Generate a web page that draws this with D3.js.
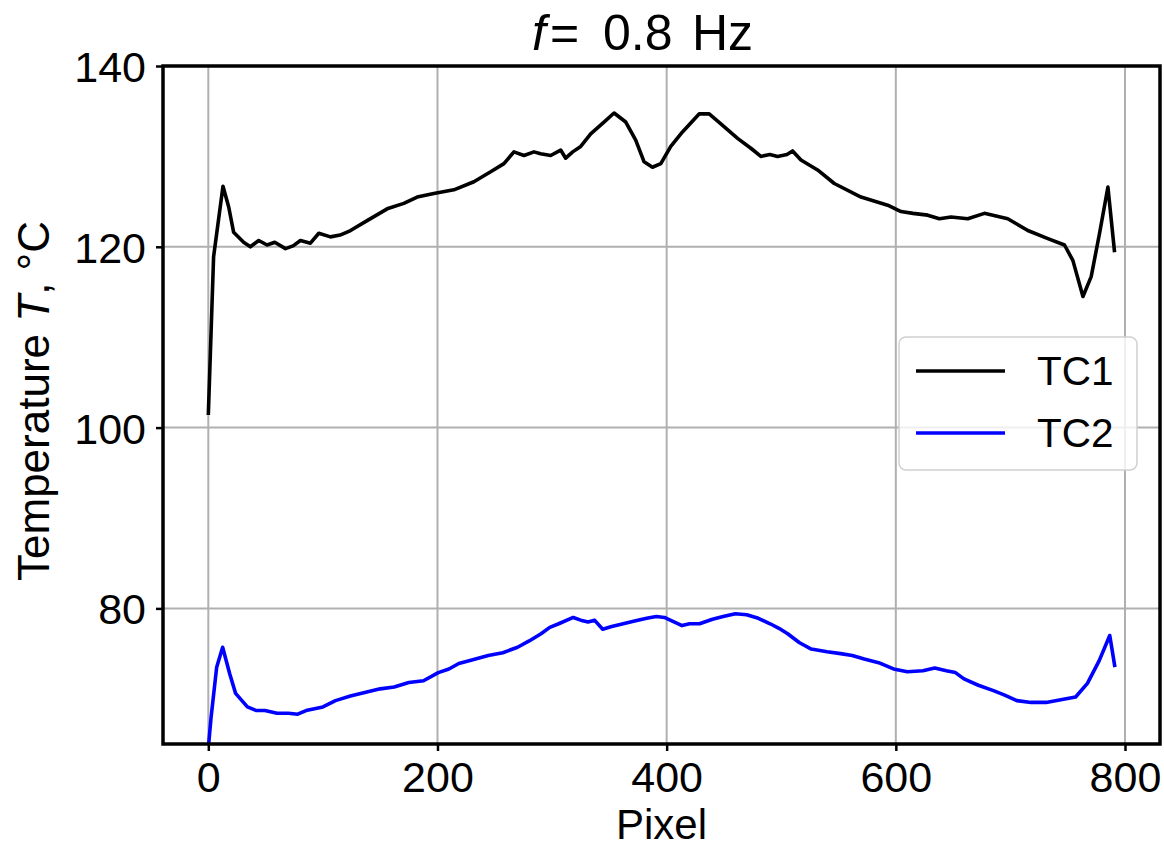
<!DOCTYPE html>
<html><head><meta charset="utf-8">
<script src="https://cdn.jsdelivr.net/npm/d3@7"></script>
<style>body{margin:0;background:#fff}text{font-family:"Liberation Sans",Arial,sans-serif}</style>
</head><body><svg id="c" width="1164" height="848"></svg>
<script>
const tc1X = [0,4.6,12.8,17.8,22.1,30.8,36.7,44,51.3,58,67.3,74,80.4,89.1,96.4,106.6,115,124.1,138.6,156.1,170.6,182.3,196.8,214.3,231.8,246.4,258,266.7,275.5,284.2,290,298.8,307.5,311.9,318,325,333.7,345.3,354.1,364.3,373,380.3,387.6,394.9,403.6,413.8,428.3,437.1,447.3,461.9,473.5,482.2,490,496.8,505,509.9,517.2,531.7,546.3,569.6,592.9,604.5,615,627.8,638,648.2,662.8,677.3,697.7,715.2,732.7,747.2,754.5,763.3,770.5,777.8,785.1,790.9];
const tc1Y = [101.4,118.9,126.7,124.4,121.6,120.5,120.0,120.7,120.2,120.5,119.8,120.1,120.7,120.4,121.5,121.1,121.3,121.8,122.9,124.2,124.8,125.5,125.9,126.3,127.2,128.3,129.2,130.5,130.1,130.5,130.3,130.1,130.7,129.8,130.5,131.1,132.5,133.8,134.8,133.8,131.8,129.4,128.8,129.2,131.1,132.7,134.7,134.7,133.6,132.0,130.9,130.0,130.2,130.0,130.2,130.6,129.6,128.5,127.0,125.5,124.6,123.9,123.7,123.5,123.1,123.3,123.1,123.7,123.1,121.8,120.9,120.2,118.5,114.5,116.7,121.5,126.6,119.4];
const tc2X = [0.3,2.3,7.3,12.5,18.6,23.8,34.1,42,49.4,60,69.9,78,85.3,100,111,124,136.5,150,162.2,175,187.8,200.7,210,218.6,230,244.3,257,269.9,280,290.4,298,305.8,318.5,325,331.4,337,344.2,352,362.1,372,382.6,391,398,405,413.4,420,428.7,440,449.3,460,469.8,480,490.3,498,505.6,516,526.2,540,551.8,562,572.4,585,598,610,623.6,634,644.1,652,659.5,672,685.2,695,705.6,718,731.2,744,756.9,767.2,777.4,786.7,791.2];
const tc2Y = [65.0,67.8,73.5,75.7,72.8,70.6,69.1,68.7,68.7,68.4,68.4,68.3,68.7,69.1,69.8,70.3,70.7,71.1,71.3,71.8,72.0,72.9,73.3,73.9,74.3,74.8,75.1,75.7,76.4,77.2,77.9,78.3,79.0,78.7,78.5,78.7,77.7,78.0,78.3,78.6,78.9,79.1,79.0,78.6,78.1,78.3,78.3,78.8,79.1,79.4,79.3,78.9,78.3,77.8,77.2,76.2,75.5,75.2,75.0,74.8,74.4,74.0,73.3,73.0,73.1,73.4,73.1,72.9,72.2,71.5,70.9,70.4,69.8,69.6,69.6,69.9,70.2,71.7,74.2,77.0,73.5];
const xTicks = [0,200,400,600,800];
const yTicks = [80,100,120,140];
const seriesNames = ["TC1","TC2"];
const seriesColors = ["#000000","#0000ff"];

const svg = d3.select("#c");
const L=163, R=1160, T=66, B=744;
const x = d3.scaleLinear().domain([-39.55,830.55]).range([L,R]);
const y = d3.scaleLinear().domain([65,140]).range([B,T]);
const FONT = "Liberation Sans, Arial, sans-serif";

const g = svg.append("g");
g.selectAll(".gx").data(xTicks).enter().append("line")
 .attr("x1",d=>x(d)).attr("x2",d=>x(d)).attr("y1",T).attr("y2",B)
 .attr("stroke","#b0b0b0").attr("stroke-width",2);
g.selectAll(".gy").data(yTicks).enter().append("line")
 .attr("y1",d=>y(d)).attr("y2",d=>y(d)).attr("x1",L).attr("x2",R)
 .attr("stroke","#b0b0b0").attr("stroke-width",2);

const line = d3.line().x(d=>x(d[0])).y(d=>y(d[1]));
svg.append("defs").append("clipPath").attr("id","clip").append("rect").attr("x",L).attr("y",T).attr("width",R-L).attr("height",B-T);
const lines = svg.append("g").attr("clip-path","url(#clip)");
lines.append("path").datum(d3.zip(tc1X,tc1Y)).attr("d",line).attr("fill","none")
 .attr("stroke",seriesColors[0]).attr("stroke-width",3.6).attr("stroke-linejoin","round");
lines.append("path").datum(d3.zip(tc2X,tc2Y)).attr("d",line).attr("fill","none")
 .attr("stroke",seriesColors[1]).attr("stroke-width",3.6).attr("stroke-linejoin","round");

const xa = svg.append("g").attr("transform",`translate(0,${B})`)
 .call(d3.axisBottom(x).tickValues(xTicks).tickSize(7).tickPadding(10).tickFormat(d3.format("d")));
const ya = svg.append("g").attr("transform",`translate(${L},0)`)
 .call(d3.axisLeft(y).tickValues(yTicks).tickSize(7).tickPadding(10).tickFormat(d3.format("d")));
[xa,ya].forEach(a=>{a.select(".domain").remove();
 a.selectAll(".tick line").attr("stroke","#000").attr("stroke-width",2.5);
 a.selectAll(".tick text").attr("font-size",43).attr("fill","#000").attr("font-family",FONT);});
xa.selectAll(".tick text").attr("dy",null).attr("y",48);
ya.selectAll(".tick text").attr("dy","0.36em");

svg.append("rect").attr("x",L).attr("y",T).attr("width",R-L).attr("height",B-T)
 .attr("fill","none").attr("stroke","#000").attr("stroke-width",3.5);

const tt = svg.append("text").attr("y",50).attr("font-size",50);
tt.append("tspan").attr("x",532).attr("font-style","italic").text("f");
tt.append("tspan").attr("x",550).text("=");
tt.append("tspan").attr("x",603).text("0.8");
tt.append("tspan").attr("x",692).text("Hz");

svg.append("text").attr("x",(L+R)/2).attr("y",839).attr("text-anchor","middle").attr("font-size",42).text("Pixel");
const yl = svg.append("text").attr("transform","translate(49,401) rotate(-90)").attr("text-anchor","middle").attr("font-size",44);
yl.append("tspan").text("Temperature ");
yl.append("tspan").attr("font-style","italic").text("T");
yl.append("tspan").text(", °C");

const lg = svg.append("g");
lg.append("rect").attr("x",899).attr("y",337).attr("width",238).attr("height",133).attr("rx",7)
 .attr("fill","rgba(255,255,255,0.8)").attr("stroke","#d0d0d0").attr("stroke-width",1.5);
seriesNames.forEach((n,i)=>{
 const yy = 371 + i*62;
 lg.append("line").attr("x1",916).attr("x2",1005).attr("y1",yy).attr("y2",yy).attr("stroke",seriesColors[i]).attr("stroke-width",3.6);
 lg.append("text").attr("x",1037).attr("y",yy+14).attr("font-size",40.5).text(n);
});
</script></body></html>
